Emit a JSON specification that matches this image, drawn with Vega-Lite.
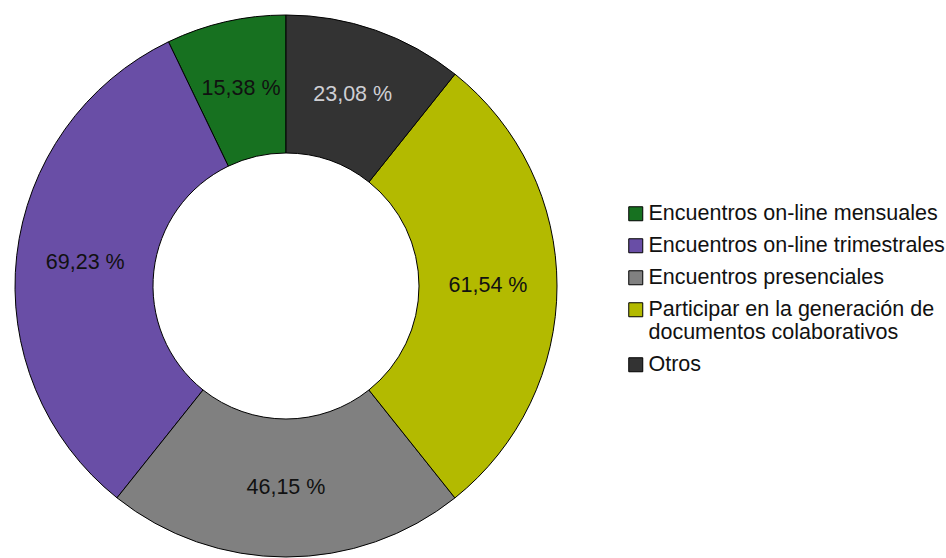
{
  "$schema": "https://vega.github.io/schema/vega-lite/v6.json",
  "width": 572,
  "height": 544,
  "autosize": {"type": "none"},
  "padding": {"left": 0, "top": 14, "right": 374, "bottom": 0},
  "background": "white",
  "config": {"view": {"stroke": null}, "font": "Liberation Sans"},
  "data": {
    "values": [
      {"cat": "Encuentros on-line mensuales", "value": 15.38, "label": "15,38 %", "rank": 5},
      {"cat": "Encuentros on-line trimestrales", "value": 69.23, "label": "69,23 %", "rank": 4},
      {"cat": "Encuentros presenciales", "value": 46.15, "label": "46,15 %", "rank": 3},
      {"cat": "Participar en la generación de documentos colaborativos", "value": 61.54, "label": "61,54 %", "rank": 2},
      {"cat": "Otros", "value": 23.08, "label": "23,08 %", "rank": 1}
    ]
  },
  "encoding": {
    "theta": {"field": "value", "type": "quantitative", "stack": true},
    "order": {"field": "rank", "type": "quantitative"}
  },
  "layer": [
    {
      "mark": {"type": "arc", "innerRadius": 133, "outerRadius": 271, "stroke": "black", "strokeWidth": 1},
      "encoding": {
        "color": {
          "field": "cat",
          "type": "nominal",
          "sort": null,
          "scale": {
            "domain": ["Encuentros on-line mensuales", "Encuentros on-line trimestrales", "Encuentros presenciales", "Participar en la generación de documentos colaborativos", "Otros"],
            "range": ["#177120", "#694ea6", "#808080", "#b3ba00", "#333333"]
          },
          "legend": {
            "title": null,
            "orient": "none",
            "legendX": 625,
            "legendY": 189,
            "padding": 0,
            "symbolType": "square",
            "symbolSize": 196,
            "symbolStrokeColor": "black",
            "symbolStrokeWidth": 1,
            "symbolOpacity": 1,
            "labelFont": "Liberation Sans",
            "labelFontSize": 21.5,
            "labelColor": "#111111",
            "labelOffset": 2,
            "labelLimit": 400,
            "rowPadding": 9,
            "labelExpr": "datum.label == 'Participar en la generación de documentos colaborativos' ? ['Participar en la generación de', 'documentos colaborativos'] : datum.label",
            "encode": {"labels": {"update": {"lineHeight": {"value": 23}}}}
          }
        }
      }
    },
    {
      "mark": {"type": "text", "radius": 202, "font": "Liberation Sans", "fontSize": 21.5},
      "encoding": {
        "text": {"field": "label"},
        "color": {
          "condition": {"test": "datum.cat == 'Otros'", "value": "#cfcfd4"},
          "value": "#111111"
        }
      }
    }
  ]
}
